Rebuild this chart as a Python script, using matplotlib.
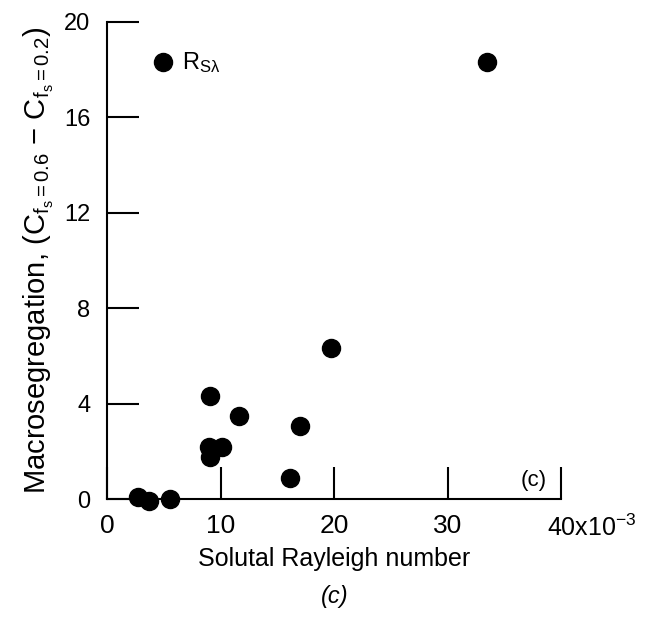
import matplotlib.pyplot as plt

plt.rcParams['font.family'] = ['Liberation Sans', 'DejaVu Sans']
plt.rcParams['mathtext.fontset'] = 'custom'
plt.rcParams['mathtext.rm'] = 'Liberation Sans'
plt.rcParams['mathtext.it'] = 'Liberation Sans:italic'

# solutal Rayleigh number (x10^-3) and macrosegregation
rayleigh = [4.9, 33.5, 2.7, 3.7, 5.5, 9.1, 11.6, 17.0, 9.0, 10.1, 9.1, 16.1, 19.7]
macroseg = [18.3, 18.3, 0.1, -0.1, 0.0, 4.3, 3.5, 3.05, 2.2, 2.2, 1.75, 0.9, 6.35]

xticks = [0, 10, 20, 30, 40]
xticklabels = ['0', '10', '20', '30', '']
yticks = [0, 4, 8, 12, 16, 20]

fig = plt.figure(figsize=(6.5, 6.2), dpi=100)
ax = fig.add_axes([0.165, 0.195, 0.698, 0.77])

ax.plot(rayleigh, macroseg, 'o', color='black', markersize=13, clip_on=False, zorder=3)

ax.set_xlim(0, 40)
ax.set_ylim(0, 20)
ax.set_xticks(xticks)
ax.set_xticklabels(xticklabels)
ax.set_yticks(yticks)
ax.tick_params(direction='in', length=23, width=1.5)
ax.tick_params(axis='x', pad=11, labelsize=19)
ax.tick_params(axis='y', pad=12, labelsize=17)
for s in ['top', 'right']:
    ax.spines[s].set_visible(False)
for s in ['left', 'bottom']:
    ax.spines[s].set_linewidth(1.5)

# last x tick label with the exponent
ax.annotate(r'40x10$^{-3}$', xy=(40, 0), xycoords=('data', 'axes fraction'),
            xytext=(-10, -11), textcoords='offset points',
            fontsize=18, ha='left', va='top')

ax.text(6.6, 18.3, r'R$_{\mathregular{S\lambda}}$', fontsize=17, va='center')
ax.text(37.6, 0.8, '(c)', fontsize=16, ha='center', va='center')

ax.set_xlabel('Solutal Rayleigh number', fontsize=18, labelpad=6)
ax.set_ylabel(r'Macrosegregation, (C$_{\mathregular{f_s=0.6}}$ $-$ C$_{\mathregular{f_s=0.2}}$)',
              fontsize=21, labelpad=6)

fig.text(0.515, 0.027, '(c)', fontsize=17, style='italic', ha='center')

fig.savefig('out.png', dpi=100)
